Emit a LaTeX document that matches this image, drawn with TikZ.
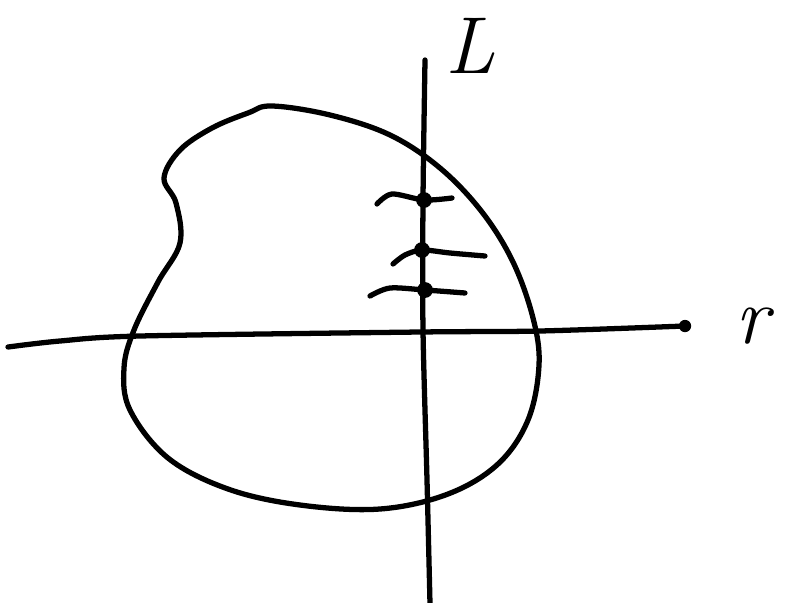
\documentclass[tikz,border=0pt]{standalone}
\usepackage{tikz}

\begin{document}
\begin{tikzpicture}[
  x=0.02cm, y=-0.02cm,
  pen/.style={line width=3pt, line cap=round, line join=round},
  dot/.style={circle, fill, inner sep=0pt, minimum size=9pt},
  lbl/.style={font=\fontsize{46}{46}\selectfont\itshape}
]
\useasboundingbox (0,0) rectangle (790,602);
% axes
\coordinate (vtop) at (425,60);
\coordinate (vbot) at (430,604);
\coordinate (hleft) at (8,347);
\node[dot, minimum size=7pt] (hright) at (685,326) {};
\draw[pen] plot[smooth] coordinates {(vtop) (423,200) (423,330) (427,480) (vbot)};
\draw[pen] plot[smooth] coordinates {(hleft) (60,341) (140,336) (420,332) (540,331) (hright.center)};
\node[lbl] (L) at (470,46) {L};
\node[lbl] (r) at (752,326) {r};
% the region
\draw[pen] plot[smooth cycle, tension=0.6] coordinates {
  (272,106) (330,115) (390,135) (440,168) (482,212) (513,262) (533,318)
  (539,365) (528,420) (498,464) (448,494) (380,509) (300,505) (228,489)
  (168,458) (130,410) (124,368) (134,330) (158,282) (180,243) (176,203)
  (164,178) (180,150) (212,128) (248,113)};
% marks on the line
\node[dot] (d1) at (424,200) {};
\node[dot] (d2) at (422,250) {};
\node[dot] (d3) at (425,290) {};
\draw[pen] plot[smooth] coordinates {(377,204) (392,194) (d1.center) (452,198)};
\draw[pen] plot[smooth] coordinates {(393,264) (405,255) (d2.center) (450,253) (485,256)};
\draw[pen] plot[smooth] coordinates {(370,296) (390,288) (d3.center) (465,293)};
\end{tikzpicture}
\end{document}
